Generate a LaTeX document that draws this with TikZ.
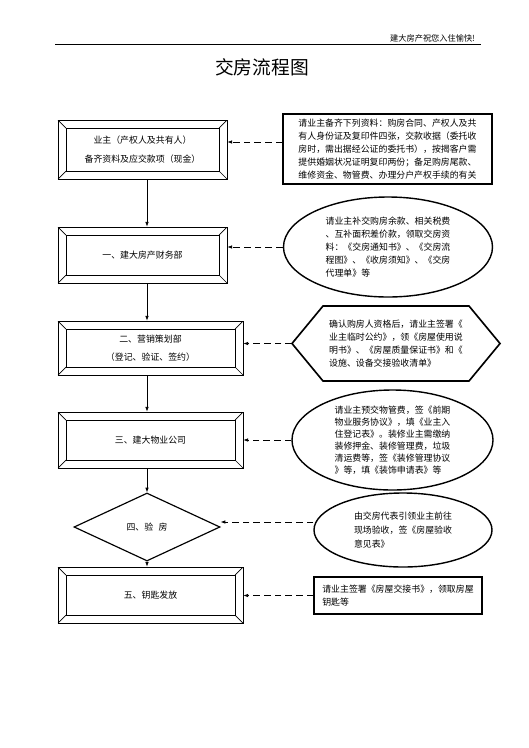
\documentclass[tikz,border=0pt]{standalone}
\usepackage{fontspec}
\setmainfont{Noto Sans CJK SC}
\usetikzlibrary{shapes.geometric,arrows.meta,positioning}

\newcommand\smalltxt{\fontsize{7.6}{11}\selectfont}

\begin{document}
\begin{tikzpicture}[x=0.03cm,y=-0.03cm,
	bevel/.style={draw, line width=0.6pt, inner sep=0pt, align=center, font=\smalltxt,
		path picture={
			\draw[line width=0.6pt]([shift={(0.24cm,0.24cm)}]path picture bounding box.south west)rectangle([shift={(-0.24cm,-0.24cm)}]path picture bounding box.north east);
			\draw[line width=0.6pt](path picture bounding box.south west)--++(0.24cm,0.24cm)
				(path picture bounding box.north west)--++(0.24cm,-0.24cm)
				(path picture bounding box.north east)--++(-0.24cm,-0.24cm)
				(path picture bounding box.south east)--++(-0.24cm,0.24cm);
		}},
	nota/.style={draw, line width=1.4pt, inner sep=0pt, align=left, font=\smalltxt},
	ovale/.style={ellipse, draw, line width=1.2pt, inner sep=0pt, align=left, font=\smalltxt},
	testo/.style={inner sep=0pt, align=left, font=\smalltxt},
	esago/.style={line width=1.4pt, line join=miter},
	rombo/.style={diamond, draw, line width=1.0pt, inner sep=0pt, font=\smalltxt},
	flow/.style={line width=0.6pt, -{Latex[length=4pt,width=3pt]}},
	dlink/.style={line width=0.6pt, dash pattern=on 0.2cm off 0.12cm, -{Latex[length=4pt,width=3pt]}},
	]
	
	\useasboundingbox(0,0)rectangle(529,748);
	
	%% ── intestazione ───────────────────────────────────────
	\node[anchor=east,font=\fontsize{7}{8}\selectfont](hd)at(479,38){建大房产祝您入住愉快!};
	\draw[line width=0.7pt](55,44)--(481,44);
	\node[font=\fontsize{16}{18}\selectfont](tt)at(262,67){交房流程图};
	
	%% ── colonna sinistra ───────────────────────────────────
	\coordinate(ax)at(147,0);
	\node[bevel,minimum width=5.07cm,minimum height=1.77cm](b1)at(142.5,149.5){业主（产权人及共有人）\\[5pt]备齐资料及应交款项（现金）};
	\node[bevel,minimum width=5.07cm,minimum height=1.68cm](b2)at(142.5,255){一、建大房产财务部};
	\node[bevel,minimum width=5.55cm,minimum height=1.62cm](b3)at(150.5,348){二、营销策划部\\[4.5pt]（登记、验证、签约）};
	\node[bevel,minimum width=5.55cm,minimum height=1.68cm](b4)at(150.5,440){三、建大物业公司};
	\node[rombo,minimum width=4.38cm,minimum height=2.04cm](dm)at(147,527){四、验\hspace{0.6em}房};
	\node[bevel,minimum width=5.55cm,minimum height=1.68cm](b5)at(150.5,595){五、钥匙发放};
	
	%% ── colonna destra ─────────────────────────────────────
	\node[nota,minimum width=6.27cm,minimum height=2.1cm](r1)at(387.5,149){请业主备齐下列资料：购房合同、产权人及共\\有人身份证及复印件四张，交款收据（委托收\\房时，需出据经公证的委托书），按揭客户需\\提供婚姻状况证明复印两份；备足购房尾款、\\维修资金、物管费、办理分户产权手续的有关};
	\node[ovale,minimum width=6.27cm,minimum height=3.0cm](e1)at(388,247){请业主补交购房余款、相关税费\\、互补面积差价款，领取交房资\\料：《交房通知书》、《交房流\\程图》、《收房须知》、《交房\\代理单》等};
	\node[testo](hx)at(396,343.5){确认购房人资格后，请业主签署《\\业主临时公约》，领《房屋使用说\\明书》、《房屋质量保证书》和《\\设施、设备交接验收清单》};
	\coordinate(hxw)at([xshift=-3.12cm]hx.center);
	\draw[esago](hxw)--++(0.93cm,1.125cm)--++(4.38cm,0)--++(0.93cm,-1.125cm)--++(-0.93cm,-1.125cm)--++(-4.38cm,0)--cycle;
	\node[ovale,minimum width=6.03cm,minimum height=3.0cm,font=\fontsize{7.6}{10.3}\selectfont](e2)at(392.5,440){请业主预交物管费，签《前期\\物业服务协议》，填《业主入\\住登记表》。装修业主需缴纳\\装修押金、装修管理费，垃圾\\清运费等，签《装修管理协议\\》等，填《装饰申请表》等};
	\node[ovale,minimum width=5.34cm,minimum height=2.22cm,font=\fontsize{7.6}{12}\selectfont](e3)at(403,530){由交房代表引领业主前往\\现场验收，签《房屋验收\\意见表》};
	\node[nota,minimum width=5.04cm,minimum height=1.11cm](r2)at(398,595.5){请业主签署《房屋交接书》，领取房屋\\钥匙等};
	
	%% ── collegamenti ───────────────────────────────────────
	\draw[flow](b1.south -| ax)--(b2.north -| ax);
	\draw[flow](b2.south -| ax)--(b3.north -| ax);
	\draw[flow](b3.south -| ax)--(b4.north -| ax);
	\draw[flow](b4.south -| ax)--(dm.north);
	\draw[flow](dm.south)--(b5.north -| ax);
	
	\coordinate(a1)at([yshift=0.21cm]r1.west);
	\coordinate(a5)at([yshift=0.24cm]e3.west);
	\draw[dlink](a1)--(a1 -| b1.east);
	\draw[dlink](e1.west)--(e1.west -| b2.east);
	\draw[dlink](hxw)--(hxw -| b3.east);
	\draw[dlink](e2.west)--(e2.west -| b4.east);
	\draw[dlink](a5)--(a5 -| dm.east);
	\draw[dlink](r2.west)--(r2.west -| b5.east);
	
\end{tikzpicture}
\end{document}
